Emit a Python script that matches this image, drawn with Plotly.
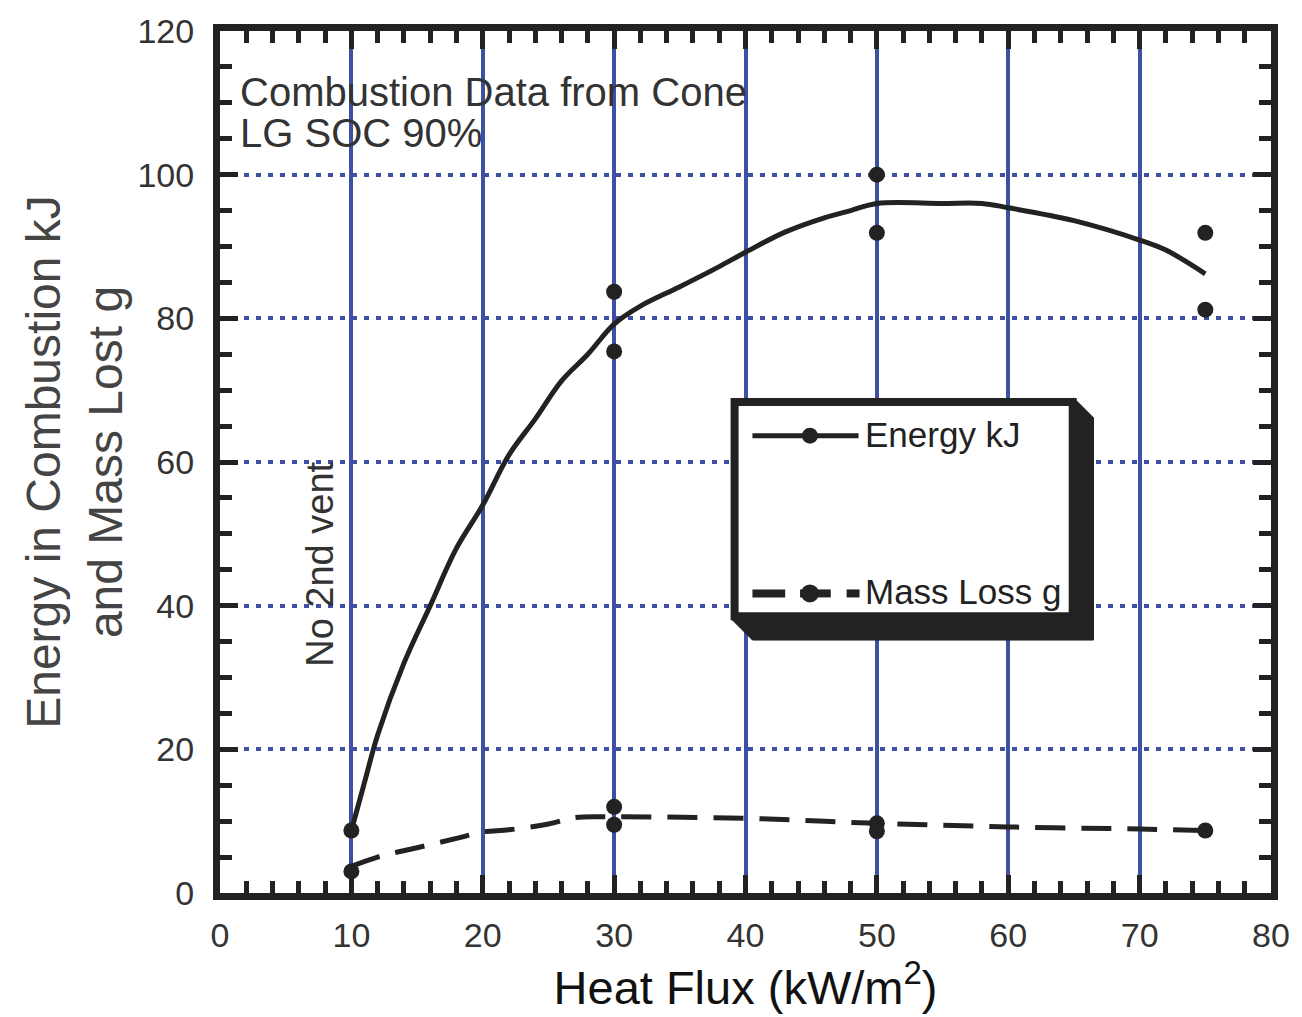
import plotly.graph_objects as go

# ---- data ----
energy_curve_x = [10, 11, 12, 14, 16, 18, 20, 22, 24, 26, 28, 30, 32, 35, 38, 40, 43, 46, 48, 50, 55, 58, 60, 65, 70, 72, 75]
energy_curve_y = [8.7, 15.4, 22, 32, 40, 48, 54, 61, 66, 71.3, 75, 79.2, 81.7, 84.4, 87.2, 89.2, 92, 94, 95, 96, 96, 96, 95.4, 93.6, 90.9, 89.5, 86.2]
energy_pts_x = [10, 30, 30, 50, 50, 75, 75]
energy_pts_y = [8.7, 83.7, 75.4, 100, 91.9, 91.9, 81.2]

mass_curve_x = [10, 12, 15, 18, 20, 22, 25, 27, 30, 40, 50, 60, 70, 75]
mass_curve_y = [3.7, 5, 6.3, 7.6, 8.5, 8.8, 9.6, 10.5, 10.6, 10.4, 9.7, 9.2, 8.9, 8.7]
mass_pts_x = [10, 30, 30, 50, 50, 75]
mass_pts_y = [3.0, 12.0, 9.5, 9.7, 8.6, 8.7]

x_ticks = [0, 10, 20, 30, 40, 50, 60, 70, 80]
y_ticks = [0, 20, 40, 60, 80, 100, 120]

INK = "#222222"
BLUE = "#3d50a3"
FONT = "Liberation Sans, Arial, sans-serif"

L, R, T, B = 220, 22, 24, 124
W, H = 1302, 1017

fig = go.Figure()
fig.add_trace(go.Scatter(x=energy_curve_x, y=energy_curve_y, mode="lines",
                         line=dict(color=INK, width=5, shape="spline"), showlegend=False))
fig.add_trace(go.Scatter(x=energy_pts_x, y=energy_pts_y, mode="markers",
                         marker=dict(color=INK, size=16), showlegend=False))
fig.add_trace(go.Scatter(x=mass_curve_x, y=mass_curve_y, mode="lines",
                         line=dict(color=INK, width=5, dash="30px,16px", shape="spline"), showlegend=False))
fig.add_trace(go.Scatter(x=mass_pts_x, y=mass_pts_y, mode="markers",
                         marker=dict(color=INK, size=16), showlegend=False))

# pixel -> data helpers for legend decoration
def px(x):
    return (x - L) / ((W - L - R) / 80)

def py(y):
    return (H - B - y) / ((H - B - T) / 120)

shapes = []
# legend shadow (bevelled)
shapes.append(dict(type="path", xref="x", yref="y", layer="above",
                   path=f"M {px(1081)},{py(394)} L {px(1101)},{py(414)} L {px(1101)},{py(638)} "
                        f"L {px(757)},{py(638)} L {px(737)},{py(618)} Z",
                   fillcolor=INK, line=dict(color=INK, width=1)))
# legend box
shapes.append(dict(type="rect", xref="x", yref="y", layer="above",
                   x0=px(739), x1=px(1080), y0=py(398), y1=py(614),
                   fillcolor="white", line=dict(color=INK, width=8)))
# energy legend sample
shapes.append(dict(type="line", xref="x", yref="y", layer="above",
                   x0=px(757), x1=px(864), y0=py(432), y1=py(432), line=dict(color=INK, width=5)))
shapes.append(dict(type="circle", xref="x", yref="y", layer="above", xsizemode="pixel", ysizemode="pixel",
                   xanchor=px(815), yanchor=py(432), x0=-8, x1=8, y0=-8, y1=8,
                   fillcolor=INK, line=dict(color=INK, width=0)))
# mass legend sample
for a, b in [(757, 790), (805, 836), (852, 865)]:
    shapes.append(dict(type="line", xref="x", yref="y", layer="above",
                       x0=px(a), x1=px(b), y0=py(591), y1=py(591), line=dict(color=INK, width=8)))
shapes.append(dict(type="circle", xref="x", yref="y", layer="above", xsizemode="pixel", ysizemode="pixel",
                   xanchor=px(815), yanchor=py(591), x0=-9, x1=9, y0=-9, y1=9,
                   fillcolor=INK, line=dict(color=INK, width=0)))

annotations = [
    dict(x=px(869), y=py(431), xref="x", yref="y", text="Energy kJ", showarrow=False,
         xanchor="left", yanchor="middle", font=dict(family=FONT, size=35, color=INK)),
    dict(x=px(869), y=py(589), xref="x", yref="y", text="Mass Loss g", showarrow=False,
         xanchor="left", yanchor="middle", font=dict(family=FONT, size=35, color=INK)),
    dict(x=px(238), y=py(85), xref="x", yref="y", text="Combustion Data from Cone",
         showarrow=False, xanchor="left", yanchor="middle",
         font=dict(family=FONT, size=40, color="#333333")),
    dict(x=px(238), y=py(127), xref="x", yref="y", text="LG SOC 90%",
         showarrow=False, xanchor="left", yanchor="middle",
         font=dict(family=FONT, size=40, color="#333333")),
    dict(x=px(321), y=py(562), xref="x", yref="y", text="No 2nd vent", textangle=-90, showarrow=False,
         xanchor="center", yanchor="middle", font=dict(family=FONT, size=38, color="#333333")),
]

fig.update_layout(
    width=W, height=H,
    margin=dict(l=L, r=R, t=T, b=B),
    paper_bgcolor="white", plot_bgcolor="white",
    font=dict(family=FONT, color="#333333"),
    shapes=shapes, annotations=annotations,
    showlegend=False,
)

fig.update_xaxes(
    range=[0, 80], tickvals=x_ticks, ticktext=[str(v) for v in x_ticks],
    showline=True, linecolor=INK, linewidth=7, mirror="ticks",
    ticks="inside", ticklen=18, tickwidth=5, tickcolor=INK,
    minor=dict(ticks="inside", dtick=2, tick0=0, ticklen=12, tickwidth=5, tickcolor=INK, showgrid=False),
    showgrid=True, gridcolor=BLUE, gridwidth=4,
    zeroline=False,
    tickfont=dict(family=FONT, size=34, color="#333333"),
    ticklabelstandoff=6,
    title=dict(text="Heat Flux (kW/m<sup>2</sup>)", font=dict(family=FONT, size=47, color="#111111"), standoff=14),
)
fig.update_yaxes(
    range=[0, 120], tickvals=y_ticks, ticktext=[str(v) for v in y_ticks],
    showline=True, linecolor=INK, linewidth=7, mirror="ticks",
    ticks="inside", ticklen=18, tickwidth=5, tickcolor=INK,
    minor=dict(ticks="inside", dtick=5, tick0=0, ticklen=12, tickwidth=5, tickcolor=INK, showgrid=False),
    showgrid=True, gridcolor=BLUE, gridwidth=4, griddash="5px,7px",
    zeroline=False,
    tickfont=dict(family=FONT, size=34, color="#333333"),
    ticklabelstandoff=12,
    title=dict(text="Energy in Combustion kJ<br>and Mass Lost g", font=dict(family=FONT, size=48, color="#444444"), standoff=2),
)

fig.write_html("out.html")
